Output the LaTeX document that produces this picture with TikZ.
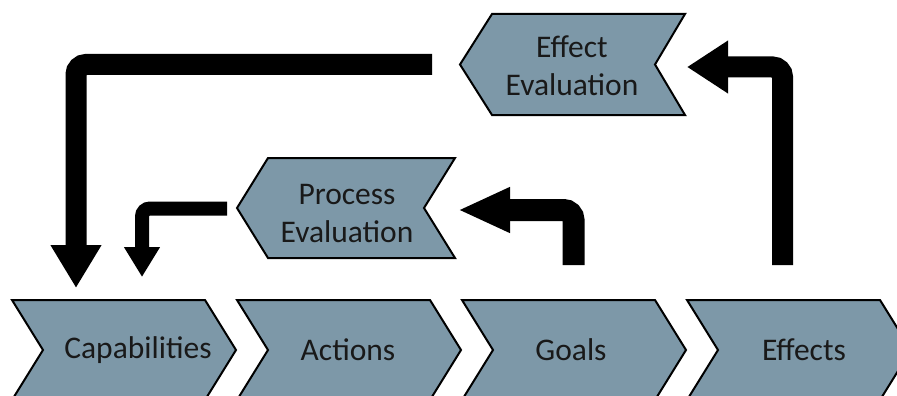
\documentclass[tikz,border=0pt]{standalone}
\usepackage{fontspec}
\setmainfont{Carlito}
\usetikzlibrary{arrows.meta}
\definecolor{chevfill}{RGB}{125,152,168}
\tikzset{
  chev/.style={draw=black, line width=2pt, fill=chevfill, line join=miter},
  lbl/.style={inner sep=0pt, font=\fontsize{31.5}{38}\selectfont, align=center, text=black!90},
  fb/.style={draw=black, line width=#1, rounded corners=10pt},
}
\begin{document}
\begin{tikzpicture}[x=1pt,y=-1pt]
\useasboundingbox (0,0) rectangle (897,396);
\clip (0,0) rectangle (897,396);
% bottom row chevrons
\foreach \L in {12,237,462,687}{
  \draw[chev] (\L,300) -- ++(193,0) -- ++(31,50) -- ++(-31,50) -- ++(-193,0) -- ++(31,-50) -- cycle;
}
\node[lbl] (cap) at (138,350) {Capabilities};
\node[lbl] (act) at (348,350) {Actions};
\node[lbl] (goa) at (571,350) {Goals};
\node[lbl] (eff) at (804,350) {Effects};
% evaluation chevrons (left pointing)
\draw[chev] (237,208) -- (268,158) -- (455,158) -- (424,208) -- (455,258) -- (268,258) -- cycle;
\node[lbl] (pe) at (347,214) {Process\\Evaluation};
\draw[chev] (460,64.5) -- (492,14) -- (685,14) -- (655,64.5) -- (685,115) -- (492,115) -- cycle;
\node[lbl] (ee) at (572,66) {Effect\\Evaluation};
% connector end points
\coordinate (eeOut) at (432,64.5);
\coordinate (capIn1) at (76,288);
\coordinate (peOut) at (227,208.5);
\coordinate (capIn2) at (142,277);
\coordinate (goaOut) at (573.5,265);
\coordinate (peIn) at (458,210);
\coordinate (effOut) at (782.5,265);
\coordinate (eeIn) at (687,67);
% connectors
\draw[fb=21pt, -{Triangle[length=43pt,width=48pt]}] (eeOut) -- (capIn1 |- eeOut) -- (capIn1);
\draw[fb=14pt, rounded corners=8pt, -{Triangle[length=30pt,width=34pt]}] (peOut) -- (capIn2 |- peOut) -- (capIn2);
\draw[fb=22pt, -{Triangle[length=52pt,width=42pt]}] (goaOut) -- (goaOut |- peIn) -- (peIn);
\draw[fb=21pt, -{Triangle[length=41pt,width=50pt]}] (effOut) -- (effOut |- eeIn) -- (eeIn);
\end{tikzpicture}
\end{document}
